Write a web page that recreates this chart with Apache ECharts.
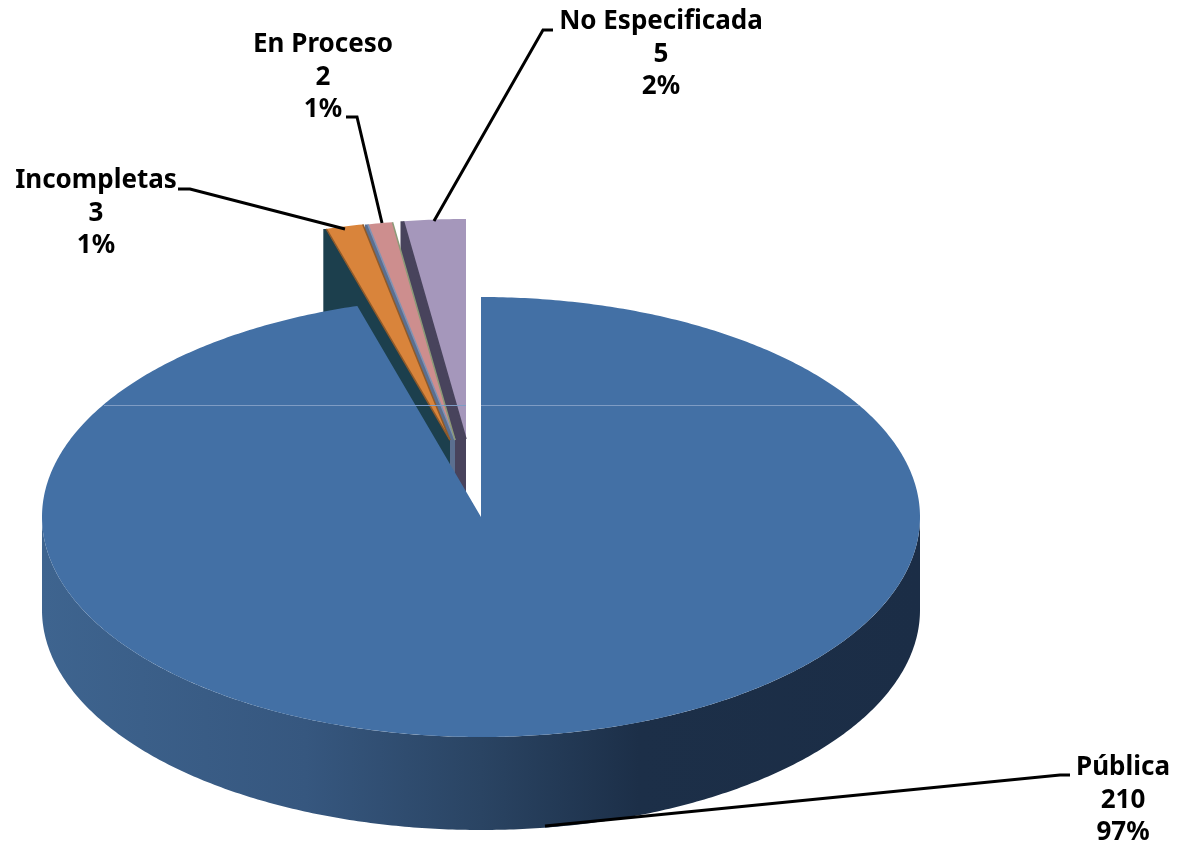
<!DOCTYPE html>
<html>
<head>
<meta charset="utf-8">
<title>Pie</title>
<script src="https://cdn.jsdelivr.net/npm/echarts@6/dist/echarts.min.js"></script>
<style>
  html, body { margin: 0; padding: 0; background: #fff; }
  #chart1 { width: 1178px; height: 847px; }
</style>
</head>
<body>
<div id="chart1"></div>
<script>
// datos, en sentido horario desde arriba
var categories = ['Pública', 'Incompletas', 'En Proceso', 'No Especificada'];
var values = [210, 3, 2, 5];
var percentLabels = ['97%', '1%', '1%', '2%'];

// colores
var faceColors = ['#4370a5', '#d9843b', '#cd8e8e', '#a597bb'];
var wallColors = [null, '#1c3f4d', '#5b6f90', '#48435c'];
var leftEdgeColors = [null, '#8f5a2a', '#7f93b5', '#48435c'];
var rightEdgeColors = [null, '#8f5a2a', '#8c9a78', null];

// elipse del pastel
var cx = 481, cy = 517, rx = 439, ry = 220, depth = 93;
// desplazamiento de cada porcion separada
var explodeX = [0, -31, -26, -15];
var explodeY = [0, -77, -77, -78];
var drawOrder = [40, 30, 20, 10];

// etiquetas: centro x, y de la primera linea
var labelX = [1123, 96, 323, 661];
var labelY = [768, 181, 45, 22];
var lineGap = 32.5;
var leaders = [
    [[1070, 775], [1060, 775], [545, 826]],
    [[178, 189], [190, 189], [345, 229]],
    [[346, 117], [357, 117], [382, 223]],
    [[553, 30], [543, 30], [434, 221]]
];

var total = 0;
for (var i = 0; i < values.length; i++) {
    total += values[i];
}

function pt(x0, y0, a) {
    return [x0 + rx * Math.sin(a), y0 - ry * Math.cos(a)];
}

function arc(x0, y0, a0, a1, yShift) {
    var pts = [];
    var n = Math.max(4, Math.ceil(Math.abs(a1 - a0) / 0.01));
    for (var k = 0; k <= n; k++) {
        var p = pt(x0, y0, a0 + (a1 - a0) * k / n);
        pts.push([p[0], p[1] + (yShift || 0)]);
    }
    return pts;
}

function edgeLine(x0, y0, p, color, z) {
    return {
        type: 'line',
        z2: z,
        shape: { x1: p[0], y1: p[1], x2: x0, y2: y0 },
        style: { stroke: color, lineWidth: 1.5 }
    };
}

function renderSlice(params, api) {
    var idx = params.dataIndex;
    var before = 0;
    for (var j = 0; j < idx; j++) {
        before += values[j];
    }
    var a0 = before / total * Math.PI * 2;
    var a1 = (before + api.value(0)) / total * Math.PI * 2;
    var x0 = cx + explodeX[idx];
    var y0 = cy + explodeY[idx];
    var z = drawOrder[idx];
    var children = [];

    if (idx === 0) {
        // pared exterior, solo la mitad de abajo se ve
        var top = arc(x0, y0, Math.PI / 2, Math.PI * 1.5, 0);
        var bottom = arc(x0, y0, Math.PI * 1.5, Math.PI / 2, depth);
        children.push({
            type: 'polygon',
            z2: 1,
            shape: { points: top.concat(bottom) },
            style: {
                fill: new echarts.graphic.LinearGradient(0, 0, 1, 0, [
                    { offset: 0, color: '#3e648f' },
                    { offset: 0.3, color: '#36577f' },
                    { offset: 0.5, color: '#2a4463' },
                    { offset: 0.68, color: '#1c2f48' },
                    { offset: 1, color: '#1b2d46' }
                ])
            }
        });
    } else {
        // pared del corte izquierdo
        var outer = pt(x0, y0, a0);
        var wallX = outer[0] - 3;
        children.push({
            type: 'polygon',
            z2: z,
            shape: { points: [[wallX, outer[1]], outer, [x0, y0], [x0, y0 + depth], [wallX, outer[1] + depth]] },
            style: { fill: wallColors[idx] }
        });
    }

    var face = [[x0, y0]].concat(arc(x0, y0, a0, a1, 0));
    children.push({
        type: 'polygon',
        z2: z + 1,
        shape: { points: face },
        style: { fill: faceColors[idx] }
    });

    if (idx > 0) {
        children.push(edgeLine(x0, y0, pt(x0, y0, a0), leftEdgeColors[idx], z + 2));
        if (rightEdgeColors[idx]) {
            children.push(edgeLine(x0, y0, pt(x0, y0, a1), rightEdgeColors[idx], z + 2));
        }
    }
    return { type: 'group', children: children };
}

var graphicEls = [];
// linea clara que cruza la cara
graphicEls.push({ type: 'line', z: 10, shape: { x1: 104, y1: 405.5, x2: 466, y2: 405.5 }, style: { stroke: '#7f9cc4', lineWidth: 1 } });
graphicEls.push({ type: 'line', z: 10, shape: { x1: 481, y1: 405.5, x2: 859, y2: 405.5 }, style: { stroke: '#7f9cc4', lineWidth: 1 } });

for (var m = 0; m < categories.length; m++) {
    graphicEls.push({
        type: 'polyline',
        z: 11,
        shape: { points: leaders[m] },
        style: { stroke: '#000', lineWidth: 3, fill: null }
    });
    var lines = [categories[m], String(values[m]), percentLabels[m]];
    for (var t = 0; t < lines.length; t++) {
        graphicEls.push({
            type: 'text',
            z: 12,
            x: labelX[m],
            y: labelY[m] + t * lineGap,
            style: {
                text: lines[t],
                fill: '#000',
                font: 'bold 26px "Noto Sans", sans-serif',
                textAlign: 'center',
                textVerticalAlign: 'middle'
            }
        });
    }
}

var option1 = {
    animation: false,
    backgroundColor: '#fff',
    graphic: graphicEls,
    series: [
        {
            type: 'custom',
            coordinateSystem: 'none',
            renderItem: renderSlice,
            silent: true,
            data: values.map(function (v) { return [v]; })
        }
    ]
};

echarts.init(document.getElementById('chart1')).setOption(option1);
</script>
</body>
</html>
